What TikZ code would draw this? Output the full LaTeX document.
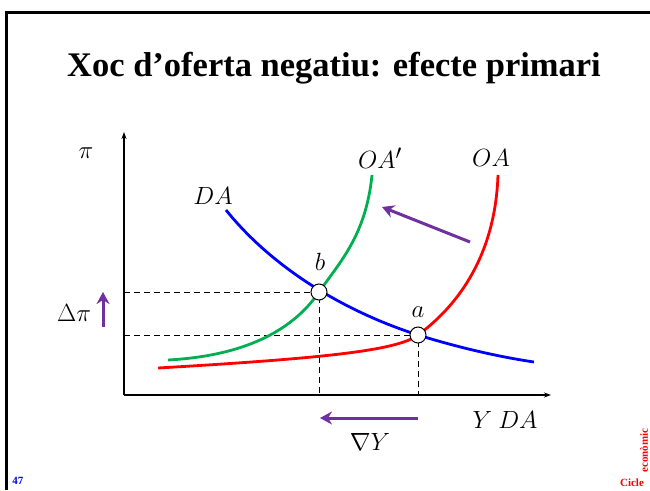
\documentclass[tikz,border=0pt]{standalone}
\usepackage{fontspec}
\setmainfont{Liberation Serif}
\usetikzlibrary{arrows.meta}
\definecolor{violeta}{RGB}{112,48,160}
\definecolor{verd}{RGB}{0,176,80}
\begin{document}
\begin{tikzpicture}[x=1pt, y=-1pt,
        lbl/.style={font=\fontsize{24.88}{28}\selectfont},
        eix/.style={line width=1.8pt, -{Stealth[length=7pt, width=5pt]}},
        guia/.style={line width=1pt, dash pattern=on 6pt off 4pt},
        corba/.style={line width=2.8pt},
        fletxa/.style={draw=violeta, line width=3pt, -{Stealth[length=12pt, width=13pt, inset=4pt]}},
        punt/.style={draw, circle, fill=white, line width=1pt, inner sep=0pt, minimum size=16pt}
    ]
        \useasboundingbox (0,0) rectangle (650,490);
        \draw[line width=3pt] (6,490) -- (6,12) -- (650,12);
        \node[font=\fontsize{34.5}{40}\selectfont\bfseries] (titol) at (334,68) {Xoc d'oferta negatiu: efecte primari};

        \coordinate (O) at (124,395);
        \coordinate (ytop) at (124,132);
        \coordinate (xfi) at (551,395);
        \draw[eix] (O) -- (ytop);
        \draw[eix] (O) -- (xfi);

        \coordinate (bx) at (319,395);
        \coordinate (by) at (124,292);
        \coordinate (ax) at (418,395);
        \coordinate (ay) at (124,335);
        \draw[guia] (by) -- (319,292) -- (bx);
        \draw[guia] (ay) -- (418,335) -- (ax);

        % corbes
        \draw[corba, blue] (226,210) .. controls (270,265) and (340,310) .. (418,335) .. controls (460,348) and (500,357) .. (534,362);
        \draw[corba, red] (158,368) .. controls (330,358) and (398,350) .. (418,335) .. controls (452,310) and (495,262) .. (498,175);
        \draw[corba, verd] (168,360) .. controls (260,355) and (300,320) .. (319,292) .. controls (340,262) and (366,235) .. (372,175);

        \node[punt] (b) at (319,292) {};
        \node[punt] (a) at (418,335) {};

        \node[lbl] (pi) at (86,153) {$\pi$};
        \node[lbl] (yda) at (505,420) {$Y\ DA$};
        \node[lbl] (da) at (213,196) {$DA$};
        \node[lbl] (oap) at (380,158) {$OA'$};
        \node[lbl] (oa) at (491,158) {$OA$};
        \node[lbl] (lb) at (320,262) {$b$};
        \node[lbl] (la) at (418,312) {$a$};
        \node[lbl] (dpi) at (74,313) {$\Delta\pi$};
        \node[lbl] (dy) at (370,442) {$\nabla Y$};

        % desplacaments
        \coordinate (f1) at (470,242);
        \coordinate (f2) at (382,207);
        \draw[fletxa] (f1) -- (f2);
        \coordinate (g1) at (418,418);
        \coordinate (g2) at (320,418);
        \draw[fletxa] (g1) -- (g2);
        \coordinate (h1) at (103,327);
        \coordinate (h2) at (103,292);
        \draw[fletxa] (h1) -- (h2);

        \node[font=\fontsize{11}{12}\selectfont\bfseries, text=blue] (num) at (18,481) {47};
        \node[font=\fontsize{11}{12}\selectfont\bfseries, text=red] (cicle) at (632,483) {Cicle};
        \node[font=\fontsize{11}{12}\selectfont\bfseries, text=red, rotate=90, anchor=west] (econ) at (644,476) {econòmic};
    \end{tikzpicture}
\end{document}
